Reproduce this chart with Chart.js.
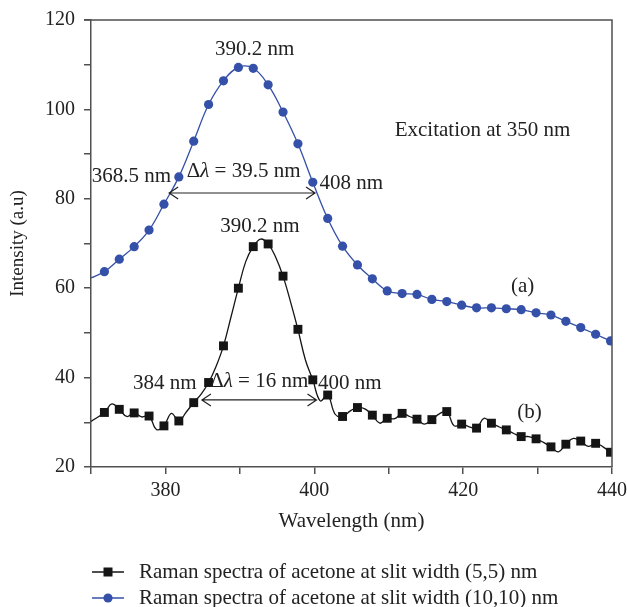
<!DOCTYPE html>
<html>
<head>
<meta charset="utf-8">
<script src="https://cdn.jsdelivr.net/npm/chart.js@4.4.1/dist/chart.umd.min.js"></script>
<style>
  html, body { margin: 0; padding: 0; background: #fff; }
</style>
</head>
<body>
<canvas id="ramanChart" width="627" height="607"></canvas>
<script>
// (a) slit width (10,10) nm
const wavelengthA = [370.0, 371.8, 373.8, 375.8, 377.8, 379.8, 381.8, 383.8, 385.8, 387.8, 389.8,
  391.8, 393.8, 395.8, 397.8, 399.8, 401.8, 403.8, 405.8, 407.8, 409.8, 411.8, 413.8, 415.8,
  417.8, 419.8, 421.8, 423.8, 425.8, 427.8, 429.8, 431.8, 433.8, 435.8, 437.8, 439.8];
const intensityA = [62.3, 63.7, 66.5, 69.3, 73.0, 78.8, 84.9, 92.9, 101.1, 106.4, 109.4,
  109.2, 105.5, 99.4, 92.3, 83.7, 75.6, 69.4, 65.2, 62.1, 59.4, 58.8, 58.6, 57.5,
  57.0, 56.2, 55.6, 55.6, 55.4, 55.2, 54.5, 54.0, 52.6, 51.2, 49.7, 48.2];

// (b) slit width (5,5) nm, symbols on every other point
const wavelengthB = [370.0, 371.8, 372.8, 373.8, 374.8, 375.8, 376.8, 377.8, 378.8, 379.8, 380.8,
  381.8, 382.8, 383.8, 384.8, 385.8, 386.8, 387.8, 388.8, 389.8, 390.8, 391.8, 392.8, 393.8,
  394.8, 395.8, 396.8, 397.8, 398.8, 399.8, 400.8, 401.8, 402.8, 403.8, 404.8, 405.8, 406.8,
  407.8, 408.8, 409.8, 410.8, 411.8, 412.8, 413.8, 414.8, 415.8, 416.8, 417.8, 418.8, 419.8,
  420.8, 421.8, 422.8, 423.8, 424.8, 425.8, 426.8, 427.8, 428.8, 429.8, 430.8, 431.8, 432.8,
  433.8, 434.8, 435.8, 436.8, 437.8, 438.8, 439.8];
const intensityB = [30.2, 32.2, 34.1, 32.9, 31.3, 32.1, 31.2, 31.4, 28.4, 29.2, 32.0,
  30.3, 32.3, 34.4, 36.3, 38.9, 42.5, 47.1, 53.5, 60.0, 66.0, 69.3, 71.0, 69.9,
  67.0, 62.7, 57.0, 50.8, 44.0, 39.5, 34.8, 36.1, 31.8, 31.3, 32.5, 33.3, 33.0,
  31.6, 29.8, 30.9, 30.8, 32.0, 31.3, 30.7, 29.6, 30.6, 31.9, 32.4, 29.2, 29.6,
  29.0, 28.7, 30.9, 29.8, 29.0, 28.3, 27.5, 26.8, 26.8, 26.3, 25.5, 24.5, 23.4,
  25.1, 26.4, 25.8, 24.6, 25.3, 24.5, 23.3];

const xTicks = [370, 440, 10];
const yTicks = [20, 120, 10];

const seriesLabels = [
  'Raman spectra of acetone at slit width (5,5) nm',
  'Raman spectra of acetone at slit width (10,10) nm'
];

const FONT = '"Liberation Serif", "DejaVu Serif", serif';
const AXIS = '#505050';
const BLUE = '#3450a8';
const DARK = '#151515';
const INK = '#222';

// symbols sit on the 2 nm grid starting at 371.8
function symbolSize(size) {
  return ctx => {
    const k = (ctx.raw.x - 371.8) / 2;
    return Math.abs(k - Math.round(k)) < 0.01 ? size : 0;
  };
}

// text notes in data coordinates
const notes = [
  { text: '390.2 nm', x: 392.0, y: 113.4, align: 'center' },
  { text: '368.5 nm', x: 370.1, y: 84.9, align: 'left' },
  { text: 'DL = 39.5 nm', x: 390.5, y: 86.0, align: 'center' },
  { text: '408 nm', x: 400.7, y: 83.5, align: 'left' },
  { text: '390.2 nm', x: 392.7, y: 73.8, align: 'center' },
  { text: '384 nm', x: 379.9, y: 38.7, align: 'center' },
  { text: 'DL = 16 nm', x: 392.6, y: 39.2, align: 'center' },
  { text: '400 nm', x: 400.5, y: 38.7, align: 'left' },
  { text: 'Excitation at 350 nm', x: 422.6, y: 95.2, align: 'center' },
  { text: '(a)', x: 428.0, y: 60.4, align: 'center' },
  { text: '(b)', x: 428.9, y: 32.2, align: 'center' }
];
const arrows = [
  { x1: 380.5, x2: 400.1, y: 81.3 },
  { x1: 384.9, x2: 400.3, y: 35.0 }
];

function drawNote(ctx, note, xs, ys) {
  const px = xs.getPixelForValue(note.x);
  const py = ys.getPixelForValue(note.y);
  const size = 21;
  ctx.textBaseline = 'middle';
  ctx.fillStyle = INK;
  if (note.text.startsWith('DL')) {
    // Δλ with italic lambda
    const rest = note.text.slice(2);
    ctx.font = size + 'px ' + FONT;
    const wD = ctx.measureText('\u0394').width;
    const wR = ctx.measureText(rest).width;
    ctx.font = 'italic ' + size + 'px ' + FONT;
    const wL = ctx.measureText('\u03bb').width;
    const x0 = note.align === 'center' ? px - (wD + wL + wR) / 2 : px;
    ctx.textAlign = 'left';
    ctx.font = size + 'px ' + FONT;
    ctx.fillText('\u0394', x0, py);
    ctx.font = 'italic ' + size + 'px ' + FONT;
    ctx.fillText('\u03bb', x0 + wD, py);
    ctx.font = size + 'px ' + FONT;
    ctx.fillText(rest, x0 + wD + wL, py);
    return;
  }
  ctx.font = size + 'px ' + FONT;
  ctx.textAlign = note.align;
  ctx.fillText(note.text, px, py);
}

function drawArrow(ctx, a, xs, ys) {
  const x1 = xs.getPixelForValue(a.x1);
  const x2 = xs.getPixelForValue(a.x2);
  const y = ys.getPixelForValue(a.y);
  ctx.strokeStyle = INK;
  ctx.lineWidth = 1.2;
  ctx.beginPath();
  ctx.moveTo(x1, y); ctx.lineTo(x2, y);
  ctx.moveTo(x1 + 9, y - 6); ctx.lineTo(x1, y); ctx.lineTo(x1 + 9, y + 6);
  ctx.moveTo(x2 - 9, y - 6); ctx.lineTo(x2, y); ctx.lineTo(x2 - 9, y + 6);
  ctx.stroke();
}

const extras = {
  id: 'extras',
  afterDraw(chart) {
    const { ctx, chartArea: area, scales } = chart;
    ctx.save();
    // top and right frame
    ctx.strokeStyle = AXIS;
    ctx.lineWidth = 1.5;
    ctx.beginPath();
    ctx.moveTo(area.left - 7, area.top);
    ctx.lineTo(area.right, area.top);
    ctx.lineTo(area.right, area.bottom);
    ctx.stroke();

    notes.forEach(n => drawNote(ctx, n, scales.x, scales.y));
    arrows.forEach(a => drawArrow(ctx, a, scales.x, scales.y));

    // legend: line with symbol, one row per series
    const rows = [572, 598];
    [1, 0].forEach((di, row) => {
      const ds = chart.data.datasets[di];
      const y = rows[row];
      ctx.strokeStyle = ds.borderColor;
      ctx.lineWidth = 1.5;
      ctx.beginPath();
      ctx.moveTo(92, y); ctx.lineTo(124, y);
      ctx.stroke();
      ctx.fillStyle = ds.backgroundColor;
      if (ds.pointStyle === 'rect') {
        ctx.fillRect(108 - 4.5, y - 4.5, 9, 9);
      } else {
        ctx.beginPath();
        ctx.arc(108, y, 4.6, 0, Math.PI * 2);
        ctx.fill();
      }
      ctx.fillStyle = INK;
      ctx.font = '21px ' + FONT;
      ctx.textAlign = 'left';
      ctx.textBaseline = 'middle';
      ctx.fillText(ds.label, 139, y);
    });
    ctx.restore();
  }
};

new Chart(document.getElementById('ramanChart'), {
  type: 'line',
  data: {
    datasets: [
      {
        label: seriesLabels[1],
        data: wavelengthA.map((x, i) => ({ x, y: intensityA[i] })),
        borderColor: BLUE,
        backgroundColor: BLUE,
        borderWidth: 1.3,
        pointStyle: 'circle',
        pointRadius: symbolSize(4.6),
        pointBorderWidth: 0,
        tension: 0.4
      },
      {
        label: seriesLabels[0],
        data: wavelengthB.map((x, i) => ({ x, y: intensityB[i] })),
        borderColor: DARK,
        backgroundColor: DARK,
        borderWidth: 1.3,
        pointStyle: 'rect',
        pointRadius: symbolSize(6.3),
        pointBorderWidth: 0,
        tension: 0.4
      }
    ]
  },
  options: {
    responsive: false,
    animation: false,
    layout: { padding: { left: 0, right: 15, top: 20, bottom: 73 } },
    plugins: { legend: { display: false }, tooltip: { enabled: false } },
    scales: {
      x: {
        type: 'linear',
        min: xTicks[0], max: xTicks[1],
        afterFit: s => { s.height = 67; s.paddingLeft = 0; s.paddingRight = 0; },
        border: { color: AXIS, width: 1.5 },
        grid: { drawOnChartArea: false, tickLength: 7, color: AXIS, lineWidth: 1.5 },
        ticks: {
          stepSize: xTicks[2], padding: 5, color: INK,
          font: { family: FONT, size: 20 },
          callback: v => (v % 20 === 0 ? v : '')
        },
        title: {
          display: true, text: 'Wavelength (nm)', color: INK,
          font: { family: FONT, size: 21 }, padding: { top: 0, bottom: 0 }
        }
      },
      y: {
        min: yTicks[0], max: yTicks[1],
        afterFit: s => { s.width = 91; s.paddingTop = 0; s.paddingBottom = 0; },
        border: { color: AXIS, width: 1.5 },
        grid: { drawOnChartArea: false, tickLength: 7, color: AXIS, lineWidth: 1.5 },
        ticks: {
          stepSize: yTicks[2], padding: 9, color: INK,
          font: { family: FONT, size: 20 },
          callback: v => (v % 20 === 0 ? v : '')
        },
        title: {
          display: true, text: 'Intensity (a.u)', color: INK,
          font: { family: FONT, size: 19 }, padding: { top: 7, bottom: 0 }
        }
      }
    }
  },
  plugins: [extras]
});
</script>
</body>
</html>
